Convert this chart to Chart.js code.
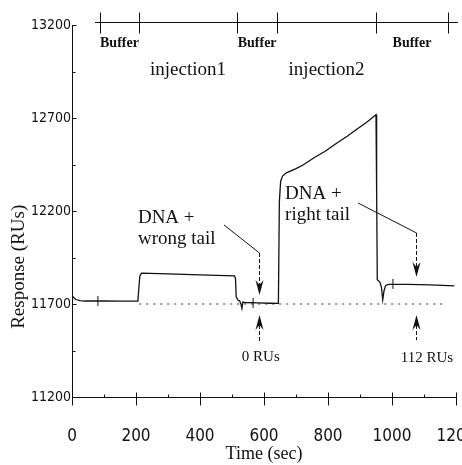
<!DOCTYPE html>
<html><head><meta charset="utf-8">
<script src="https://cdn.jsdelivr.net/npm/chart.js@4.4.1/dist/chart.umd.min.js"></script>
<style>html,body{margin:0;padding:0;background:#fff}#wrap{width:462px;height:465px}</style>
</head><body><div id="wrap"><canvas id="c" width="462" height="465"></canvas></div>
<script>
// ---- data ----
const timeSec = [0,5,12,25,40,100,150,206,209,212,217,300,400,508,511,513,518,524,528,531,534,540,580,620,645,648,652,658,670,700,722,760,790,828,860,891,920,947,950,952,954,962,967,971,975,980,990,1050,1120,1195];
const responseRU = [11748,11735,11724,11718,11716,11716,11715,11715,11790,11850,11866,11862,11857,11851,11835,11740,11722,11716,11700,11676,11710,11708,11706,11704,11703,12250,12360,12388,12405,12428,12447,12490,12520,12566,12602,12641,12676,12714,12718,12300,11830,11818,11790,11722,11770,11800,11806,11806,11803,11797];
const baselineTime = [210, 1160];
const baselineRU = [11700, 11700];
const markTime = [81, 566, 1003];
const markRU = [11716, 11706, 11808];
const phaseBoundaries = [87.5, 209, 516, 641, 950, 1175];
const phaseLineRange = [72, 1206];
const bufferLabel = 'Buffer';
const injectionLabels = ['injection1', 'injection2'];
const xTickValues = [0,200,400,600,800,1000,1200];
const xMinorTicks = [100,300,500,700,900,1100];
const yTickValues = [11200,11700,12200,12700,13200];
const yMinorTicks = [11450,11950,12450,12950];
const xTitle = 'Time (sec)';
const yTitle = 'Response (RUs)';
const noteWrong = ['DNA +', 'wrong tail'];
const noteRight = ['DNA +', 'right tail'];
const ruWrong = '0 RUs';
const ruRight = '112 RUs';

const SERIF = '"Liberation Serif", "Times New Roman", "DejaVu Serif", serif';
const NARROW = '"Liberation Sans Narrow", "DejaVu Sans Condensed", sans-serif';
const INK = '#111';

const annot = {
  id: 'annot',
  afterDraw(chart) {
    const {ctx, scales: {x, y}} = chart;
    const X = v => x.getPixelForValue(v), Y = v => y.getPixelForValue(v);
    const line = (x1, y1, x2, y2) => { ctx.beginPath(); ctx.moveTo(x1, y1); ctx.lineTo(x2, y2); ctx.stroke(); };
    ctx.save();
    ctx.strokeStyle = INK; ctx.fillStyle = INK; ctx.lineWidth = 1;
    // axis tick marks
    const yb = Math.round(Y(11200)) + 0.5;
    xTickValues.forEach(t => line(Math.round(X(t)) + 0.5, yb - 5, Math.round(X(t)) + 0.5, yb + 8));
    xMinorTicks.forEach(t => line(Math.round(X(t)) + 0.5, yb - 3, Math.round(X(t)) + 0.5, yb));
    const xl = Math.round(X(0)) + 0.5;
    yTickValues.forEach(v => line(xl, Math.round(Y(v)) + 0.5, xl + 4, Math.round(Y(v)) + 0.5));
    yMinorTicks.forEach(v => line(xl, Math.round(Y(v)) + 0.5, xl + 3, Math.round(Y(v)) + 0.5));

    // phase bar at top
    const yt = Math.round(Y(13200)) - 2.5;
    line(X(phaseLineRange[0]), yt, X(phaseLineRange[1]), yt);
    phaseBoundaries.forEach(t => line(Math.round(X(t)) + 0.5, yt - 10, Math.round(X(t)) + 0.5, yt + 11));
    ctx.textAlign = 'center'; ctx.textBaseline = 'middle';
    ctx.font = 'bold 14px ' + SERIF;
    [[0,1],[2,3],[4,5]].forEach(([a,b]) => ctx.fillText(bufferLabel, X((phaseBoundaries[a] + phaseBoundaries[b]) / 2), yt + 21));
    ctx.font = '19px ' + SERIF;
    [[1,2],[3,4]].forEach(([a,b], i) => ctx.fillText(injectionLabels[i], X((phaseBoundaries[a] + phaseBoundaries[b]) / 2), yt + 48));

    // y title
    ctx.save();
    ctx.translate(19, Y(11900));
    ctx.rotate(-Math.PI / 2);
    ctx.font = '19px ' + SERIF;
    ctx.fillText(yTitle, 0, 0);
    ctx.restore();

    // notes
    ctx.textAlign = 'left';
    ctx.font = '19px ' + SERIF;
    ctx.fillText(noteWrong[0], X(206), Y(12162));
    ctx.fillText(noteWrong[1], X(206), Y(12049));
    ctx.fillText(noteRight[0], X(666), Y(12291));
    ctx.fillText(noteRight[1], X(666), Y(12178));

    const arrowHead = (px, tipY, dir) => {
      ctx.beginPath();
      ctx.moveTo(px, tipY);
      ctx.lineTo(px - 4, tipY - dir * 15);
      ctx.lineTo(px, tipY - dir * 10);
      ctx.lineTo(px + 4, tipY - dir * 15);
      ctx.closePath();
      ctx.fill();
    };
    const pointer = (x1, v1, xa, va, vtip) => {
      const px = Math.round(X(xa)) + 0.5;
      line(X(x1), Y(v1), px, Y(va));
      ctx.setLineDash([4, 2]);
      line(px, Y(va), px, Y(vtip) - 10);
      ctx.setLineDash([]);
      arrowHead(px, Y(vtip), 1);
    };
    const upArrow = (xa, vtip, vend) => {
      const px = Math.round(X(xa)) + 0.5;
      ctx.setLineDash([4, 2]);
      line(px, Y(vtip) + 10, px, Y(vend));
      ctx.setLineDash([]);
      arrowHead(px, Y(vtip), -1);
    };
    pointer(475, 12125, 584, 11974, 11748);
    upArrow(584, 11641, 11490);
    pointer(894, 12243, 1075, 12082, 11845);
    upArrow(1075, 11641, 11505);
    ctx.textAlign = 'center';
    ctx.font = '15px ' + SERIF;
    ctx.fillText(ruWrong, X(590), Y(11415));
    ctx.fillText(ruRight, X(1109), Y(11410));
    ctx.restore();
  }
};

new Chart(document.getElementById('c'), {
  type: 'line',
  data: {
    datasets: [
      {
        data: timeSec.map((t, i) => ({x: t, y: responseRU[i]})),
        borderColor: INK, borderWidth: 1.3, pointRadius: 0, tension: 0, fill: false
      },
      {
        data: baselineTime.map((t, i) => ({x: t, y: baselineRU[i]})),
        borderColor: '#333', borderWidth: 1, borderDash: [2, 5], pointRadius: 0, fill: false
      },
      {
        data: markTime.map((t, i) => ({x: t, y: markRU[i]})),
        showLine: false, pointStyle: 'line', rotation: 90, pointRadius: 5,
        borderColor: INK, pointBorderWidth: 1, pointBorderColor: INK
      }
    ]
  },
  options: {
    responsive: false, animation: false, devicePixelRatio: 1,
    layout: {padding: {top: 25, right: 6, left: 0, bottom: 0}},
    plugins: {legend: {display: false}, tooltip: {enabled: false}},
    scales: {
      x: {
        type: 'linear', min: 0, max: 1200,
        afterBuildTicks: s => { s.ticks = xTickValues.map(v => ({value: v})); },
        afterFit: s => { s.height = 68; s.paddingLeft = 0; s.paddingRight = 0; },
        border: {display: true, color: INK, width: 1},
        grid: {display: true, drawOnChartArea: false, drawTicks: false},
        ticks: {autoSkip: false, maxRotation: 0, padding: 29, color: INK, font: {family: NARROW, size: 17}, callback: v => String(v)},
        title: {display: true, text: xTitle, color: INK, font: {family: SERIF, size: 18}, padding: {top: 0, bottom: 0}}
      },
      y: {
        type: 'linear', min: 11200, max: 13200,
        afterBuildTicks: s => { s.ticks = yTickValues.map(v => ({value: v})); },
        afterFit: s => { s.width = 72; s.paddingTop = 0; s.paddingBottom = 0; },
        border: {display: true, color: INK, width: 1},
        grid: {display: true, drawOnChartArea: false, drawTicks: false},
        ticks: {autoSkip: false, padding: 1, color: INK, font: {family: NARROW, size: 14}, callback: v => String(v)}
      }
    }
  },
  plugins: [annot]
});
</script>
</body></html>
